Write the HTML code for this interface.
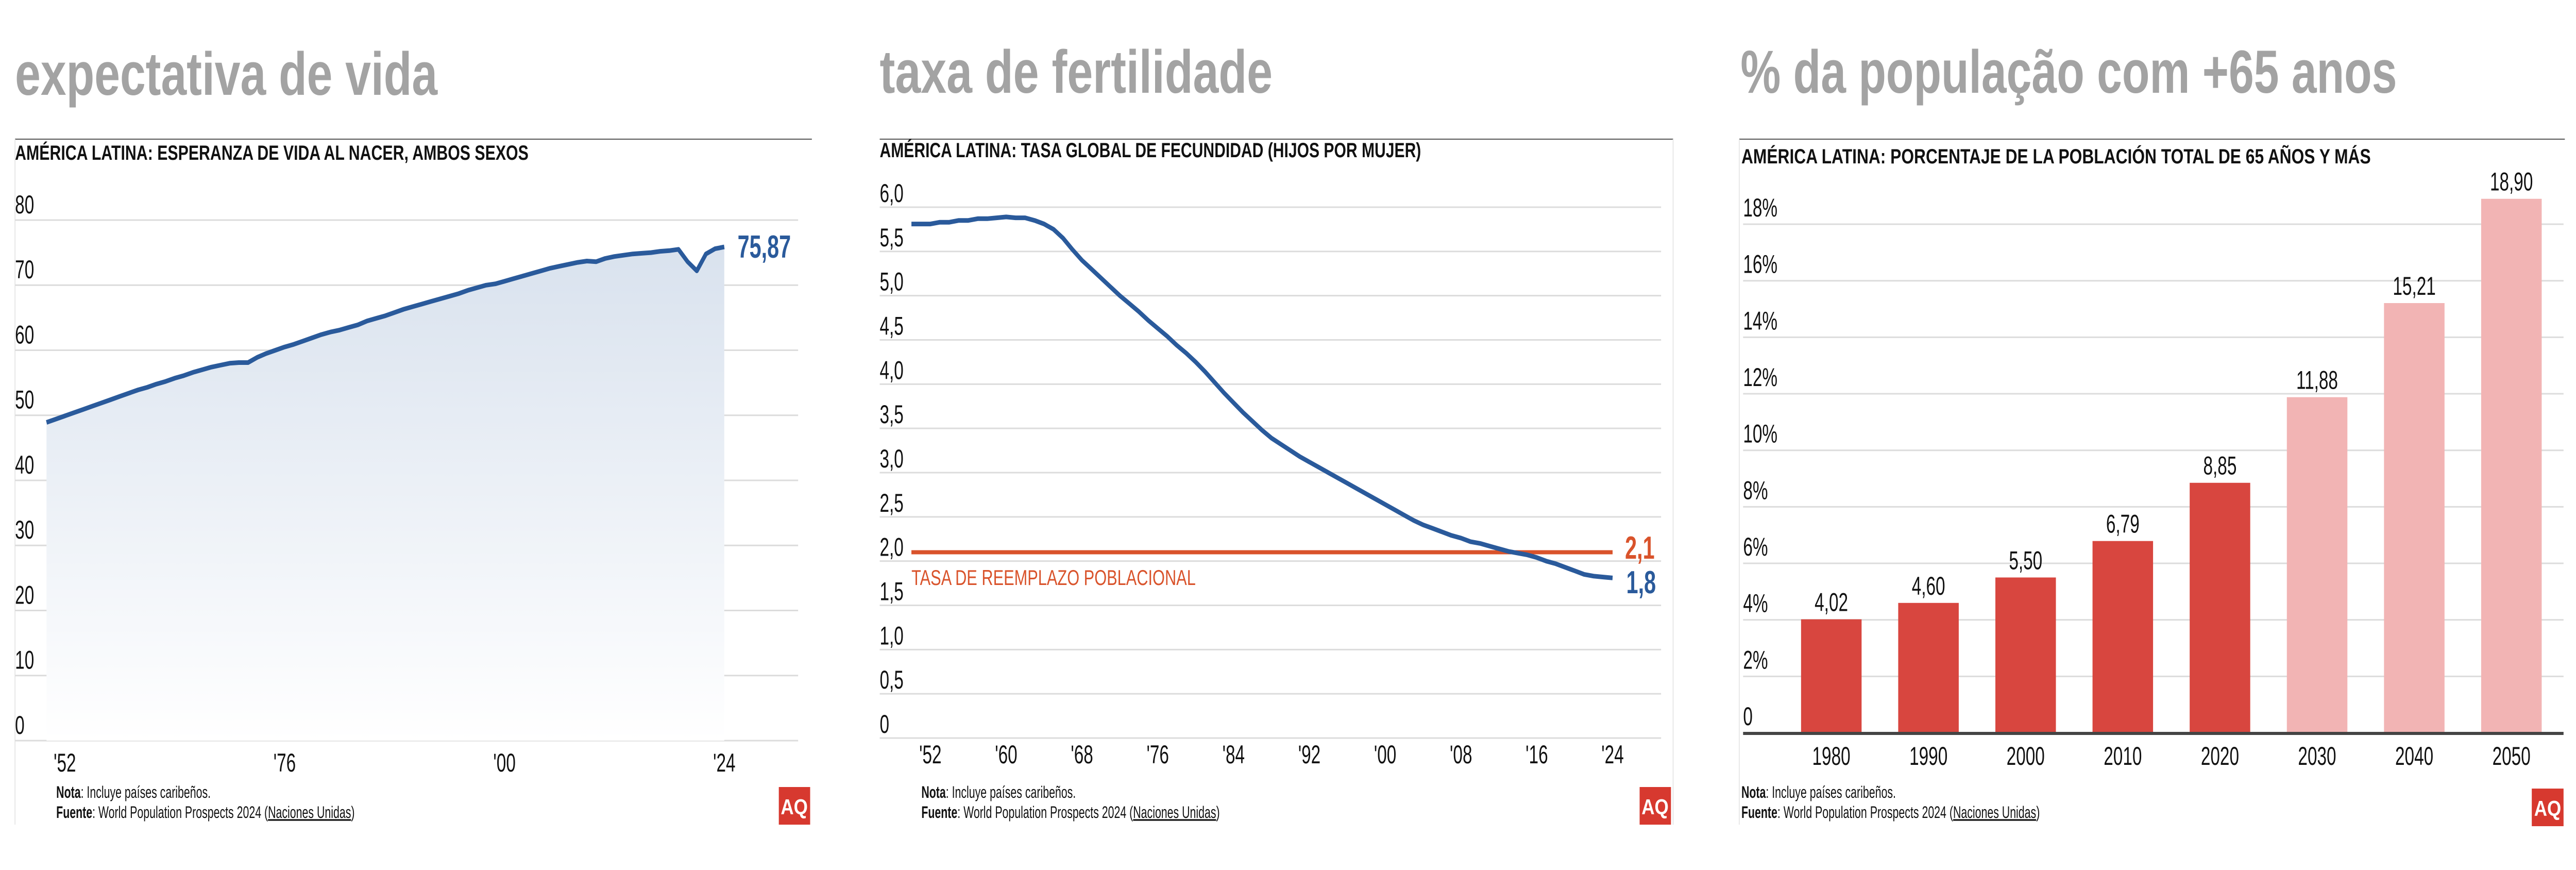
<!DOCTYPE html>
<html><head><meta charset="utf-8"><style>
html,body{margin:0;padding:0;background:#fff;overflow:hidden;width:100vw;height:100vh;}
svg{display:block;width:100vw;height:100vh;}
text{font-family:"Liberation Sans Narrow","Liberation Sans",sans-serif;}
.ttl{font-family:"Liberation Sans",sans-serif;font-weight:bold;fill:#a3a3a3;font-size:118px;}
.sub{font-size:40px;fill:#111;font-weight:bold;}
.tick{font-size:50px;fill:#111;}
.note{font-size:32px;fill:#111;}
</style></head><body>
<svg id="root" viewBox="0 0 6000 1688" preserveAspectRatio="none" xmlns="http://www.w3.org/2000/svg">
<defs>
<linearGradient id="areaGrad" x1="0" y1="0" x2="0" y2="1">
<stop offset="0" stop-color="#d9e2ee"/><stop offset="1" stop-color="#ffffff"/>
</linearGradient>
</defs>

<!-- Chart 1 -->
<g>
<text class="ttl" x="35" y="184" textLength="984" lengthAdjust="spacingAndGlyphs">expectativa de vida</text>
<line x1="35" y1="270" x2="1891" y2="270" stroke="#555" stroke-width="2"/>
<line x1="35" y1="270" x2="35" y2="1600" stroke="#e4e4e4" stroke-width="2"/>
<text class="sub" x="35" y="310" textLength="1196" lengthAdjust="spacingAndGlyphs">AMÉRICA LATINA: ESPERANZA DE VIDA AL NACER, AMBOS SEXOS</text>
<g id="c1grid"></g>
<path id="c1area" fill="url(#areaGrad)"/>
<path id="c1line" fill="none" stroke="#2a5a9b" stroke-width="9" stroke-linejoin="round"/>
<text id="c1end" class="sc" x="1718" y="497" font-size="62" font-weight="bold" fill="#2a5a9b">75,87</text>
<g id="c1x"></g>
<text class="note sc" x="131" y="1548"><tspan font-weight="bold">Nota</tspan>: Incluye países caribeños.</text>
<text class="note sc" x="131" y="1587"><tspan font-weight="bold">Fuente</tspan>: World Population Prospects 2024 (<tspan text-decoration="underline">Naciones Unidas</tspan>)</text>
<g><rect x="1814" y="1527" width="73" height="73" fill="#d7392f"/><text x="1850" y="1580" text-anchor="middle" font-family="Liberation Serif,serif" font-weight="bold" font-size="42" fill="#fff">AQ</text></g>
</g>

<!-- Chart 2 -->
<g>
<text class="ttl" x="2049" y="180" textLength="915" lengthAdjust="spacingAndGlyphs">taxa de fertilidade</text>
<line x1="2049" y1="270" x2="3897" y2="270" stroke="#555" stroke-width="2"/>
<line x1="3897" y1="270" x2="3897" y2="1600" stroke="#e4e4e4" stroke-width="2"/>
<text class="sub" x="2049" y="305" textLength="1261" lengthAdjust="spacingAndGlyphs">AMÉRICA LATINA: TASA GLOBAL DE FECUNDIDAD (HIJOS POR MUJER)</text>
<g id="c2grid"></g>
<line id="c2rep" stroke="#d9532b" stroke-width="8"/>
<path id="c2line" fill="none" stroke="#2a5a9b" stroke-width="9" stroke-linejoin="round"/>
<text x="2123" y="1135" font-size="42" fill="#d9532b" textLength="662" lengthAdjust="spacingAndGlyphs">TASA DE REEMPLAZO POBLACIONAL</text>
<text class="sc" x="3785" y="1084" font-size="62" font-weight="bold" fill="#d9532b">2,1</text>
<text class="sc" x="3788" y="1151" font-size="62" font-weight="bold" fill="#2a5a9b">1,8</text>
<g id="c2x"></g>
<text class="note sc" x="2146" y="1548"><tspan font-weight="bold">Nota</tspan>: Incluye países caribeños.</text>
<text class="note sc" x="2146" y="1587"><tspan font-weight="bold">Fuente</tspan>: World Population Prospects 2024 (<tspan text-decoration="underline">Naciones Unidas</tspan>)</text>
<g><rect x="3819" y="1527" width="73" height="73" fill="#d7392f"/><text x="3855" y="1580" text-anchor="middle" font-family="Liberation Serif,serif" font-weight="bold" font-size="42" fill="#fff">AQ</text></g>
</g>

<!-- Chart 3 -->
<g>
<text class="ttl" x="4054" y="180" textLength="1529" lengthAdjust="spacingAndGlyphs">% da população com +65 anos</text>
<line x1="4051" y1="270" x2="5974" y2="270" stroke="#555" stroke-width="2"/>
<line x1="4051" y1="270" x2="4051" y2="1600" stroke="#e4e4e4" stroke-width="2"/>
<text class="sub" x="4056" y="317" textLength="1466" lengthAdjust="spacingAndGlyphs">AMÉRICA LATINA: PORCENTAJE DE LA POBLACIÓN TOTAL DE 65 AÑOS Y MÁS</text>
<g id="c3grid"></g>
<g id="c3bars"></g>
<line x1="4060" y1="1423" x2="5971" y2="1423" stroke="#444" stroke-width="6"/>
<text class="note sc" x="4056" y="1548"><tspan font-weight="bold">Nota</tspan>: Incluye países caribeños.</text>
<text class="note sc" x="4056" y="1587"><tspan font-weight="bold">Fuente</tspan>: World Population Prospects 2024 (<tspan text-decoration="underline">Naciones Unidas</tspan>)</text>
<g><rect x="5897" y="1530" width="74" height="73" fill="#d7392f"/><text x="5934" y="1583" text-anchor="middle" font-family="Liberation Serif,serif" font-weight="bold" font-size="42" fill="#fff">AQ</text></g>
</g>
</svg>
<script>
const lifeStartYear = 1950;
const lifeValues = [48.9,49.4,49.9,50.4,50.9,51.4,51.9,52.4,52.9,53.4,53.9,54.3,54.8,55.2,55.7,56.1,56.6,57.0,57.4,57.7,58.0,58.1,58.1,58.9,59.5,60.0,60.5,60.9,61.4,61.9,62.4,62.8,63.1,63.5,63.9,64.5,64.9,65.3,65.8,66.3,66.7,67.1,67.5,67.9,68.3,68.7,69.2,69.6,70.0,70.2,70.6,71.0,71.4,71.8,72.2,72.6,72.9,73.2,73.5,73.7,73.6,74.1,74.4,74.6,74.8,74.9,75.0,75.2,75.3,75.5,73.6,72.2,74.8,75.6,75.87];
const lifeYTicks = [0,10,20,30,40,50,60,70,80];
const lifeXTicks = [1952,1976,2000,2024];
const lifeXLabels = ["'52","'76","'00","'24"];

const fertStartYear = 1950;
const fertValues = [5.81,5.81,5.81,5.83,5.83,5.85,5.85,5.87,5.87,5.88,5.89,5.88,5.88,5.85,5.81,5.75,5.65,5.52,5.40,5.30,5.20,5.10,5.00,4.91,4.82,4.72,4.63,4.54,4.44,4.35,4.25,4.14,4.02,3.90,3.79,3.68,3.58,3.48,3.39,3.32,3.25,3.18,3.12,3.06,3.00,2.94,2.88,2.82,2.76,2.70,2.64,2.58,2.52,2.46,2.41,2.37,2.33,2.29,2.26,2.22,2.20,2.17,2.14,2.11,2.09,2.07,2.04,2.00,1.97,1.93,1.89,1.85,1.83,1.82,1.81];
const replacementRate = 2.1;
const fertYTicks = [0,0.5,1,1.5,2,2.5,3,3.5,4,4.5,5,5.5,6];
const fertYLabels = ["0","0,5","1,0","1,5","2,0","2,5","3,0","3,5","4,0","4,5","5,0","5,5","6,0"];
const fertXTicks = [1952,1960,1968,1976,1984,1992,2000,2008,2016,2024];
const fertXLabels = ["'52","'60","'68","'76","'84","'92","'00","'08","'16","'24"];

const elderCats = ["1980","1990","2000","2010","2020","2030","2040","2050"];
const elderValues = [4.02,4.60,5.50,6.79,8.85,11.88,15.21,18.90];
const elderLabels = ["4,02","4,60","5,50","6,79","8,85","11,88","15,21","18,90"];
const elderProjected = [false,false,false,false,false,true,true,true];
const elderYTicks = [0,2,4,6,8,10,12,14,16,18];
const elderYLabels = ["0","2%","4%","6%","8%","10%","12%","14%","16%","18%"];

const NS = "http://www.w3.org/2000/svg";
function mk(tag, attrs, parent, txt){const e=document.createElementNS(NS,tag);for(const k in attrs)e.setAttribute(k,attrs[k]);if(txt!==undefined)e.textContent=txt;parent.appendChild(e);return e;}

// Chart 1
const x1 = y => 151 + (y-1952)*21.333;
const y1 = v => 1437 - v*12.625;
const g1 = document.getElementById('c1grid');
lifeYTicks.forEach(t=>{
  const l = mk('line',{x1:35,x2:1859,y1:y1(t),y2:y1(t),stroke:'#dcdcdc','stroke-width':3},g1);
  
  
  const tx = mk('text',{x:35,y:y1(t)-13,class:'tick sc'},g1,String(t));
  
  
});
let d1='';
lifeValues.forEach((v,i)=>{d1+=(i?'L':'M')+x1(lifeStartYear+i).toFixed(1)+','+y1(v).toFixed(1);});
document.getElementById('c1line').setAttribute('d',d1);
const lastYr1 = lifeStartYear+lifeValues.length-1;
document.getElementById('c1area').setAttribute('d',d1+'L'+x1(lastYr1)+','+y1(0)+'L'+x1(lifeStartYear)+','+y1(0)+'Z');
document.getElementById('c1end').setAttribute('y', y1(lifeValues[lifeValues.length-1])+21);
const gx1 = document.getElementById('c1x');
lifeXTicks.forEach((t,i)=>{
  const tx = mk('text',{x:x1(t),y:1497,class:'tick sc','text-anchor':'middle'},gx1,lifeXLabels[i]);
  
  
});

// Chart 2
const x2 = y => 2167 + (y-1952)*22.07;
const y2 = v => 1432 - v*171.67;
const g2 = document.getElementById('c2grid');
fertYTicks.forEach((t,i)=>{
  const l = mk('line',{x1:2049,x2:3869,y1:y2(t),y2:y2(t),stroke:'#dcdcdc','stroke-width':3},g2);
  
  
  const tx = mk('text',{x:2049,y:y2(t)-10,class:'tick sc','font-size':38},g2,fertYLabels[i]);
  
  
});
let d2='';
fertValues.forEach((v,i)=>{d2+=(i?'L':'M')+x2(fertStartYear+i).toFixed(1)+','+y2(v).toFixed(1);});
document.getElementById('c2line').setAttribute('d',d2);
const rep = document.getElementById('c2rep');
rep.setAttribute('x1',x2(fertStartYear));rep.setAttribute('x2',x2(fertStartYear+fertValues.length-1));
rep.setAttribute('y1',y2(replacementRate));rep.setAttribute('y2',y2(replacementRate));
const gx2 = document.getElementById('c2x');
fertXTicks.forEach((t,i)=>{
  const tx = mk('text',{x:x2(t),y:1481,class:'tick sc','font-size':38,'text-anchor':'middle'},gx2,fertXLabels[i]);
  
  
});

// Chart 3
const y3 = v => 1422 - v*54.83;
const xb = i => 4195 + i*226.3;
const bw = 141;
const g3 = document.getElementById('c3grid');
elderYTicks.forEach((t,i)=>{
  const l = mk('line',{x1:4060,x2:5971,y1:y3(t),y2:y3(t),stroke:'#dcdcdc','stroke-width':3},g3);
  
  
  const tx = mk('text',{x:4060,y:y3(t)-15,class:'tick sc','font-size':48},g3,elderYLabels[i]);
  
  
});
const gb = document.getElementById('c3bars');
elderValues.forEach((v,i)=>{
  const r = mk('rect',{x:xb(i),y:y3(v),width:bw,height:y3(0)-y3(v),fill:elderProjected[i]?'#f2b4b4':'#d8463f'},gb);
  
  
  const vl = mk('text',{x:xb(i)+bw/2,y:y3(v)-16,class:'tick sc','text-anchor':'middle'},gb,elderLabels[i]);
  
  
  const cl = mk('text',{x:xb(i)+bw/2,y:1484,class:'tick sc','text-anchor':'middle'},gb,elderCats[i]);
  
  
});

// condense text horizontally around its anchor x
const K = 0.8;
document.querySelectorAll('text.sc').forEach(t=>{
  const x = parseFloat(t.getAttribute('x'));
  t.setAttribute('transform','matrix('+K+',0,0,1,'+(x*(1-K)).toFixed(2)+',0)');
});
</script>
</body></html>
